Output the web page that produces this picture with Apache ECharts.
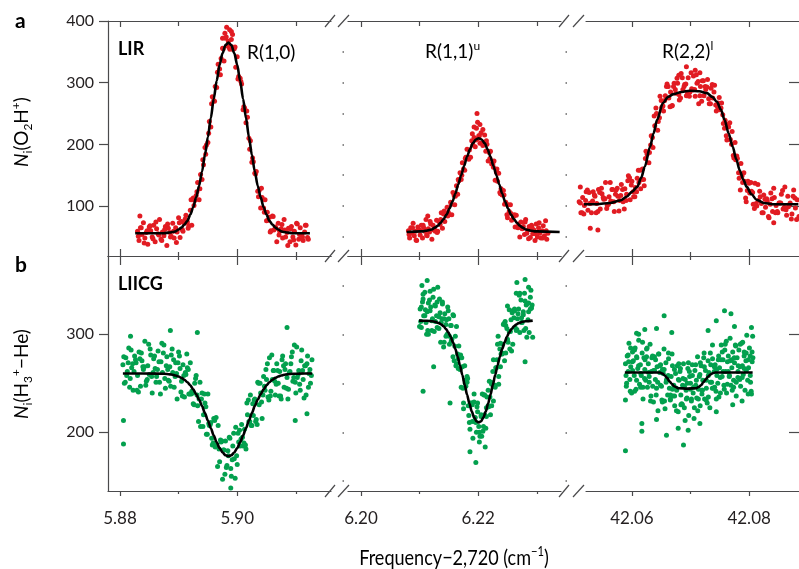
<!DOCTYPE html>
<html><head><meta charset="utf-8">
<script src="https://cdn.jsdelivr.net/npm/echarts@6/dist/echarts.min.js"></script>
<style>html,body{margin:0;padding:0;background:#fff}#c{width:799px;height:569px}</style>
</head><body><div id="c"></div>
<script>
// ---------------- DATA ----------------
// Panel a, R(1,0): LIR spectrum of O2H+ (scatter) and fit
const a1Pts = [[5.8830,59],[5.88325,44],[5.8835,65],[5.88375,54],[5.8840,73],[5.88425,48],[5.8845,57],[5.88475,38],[5.8850,66],[5.88525,60],
[5.8855,50],[5.88575,69],[5.8860,42],[5.88625,63],[5.8865,55],[5.88675,78],[5.8870,46],[5.88725,58],[5.8875,52],[5.88775,67],
[5.8880,36],[5.88825,64],[5.8885,57],[5.88875,51],[5.8890,72],[5.88925,48],[5.8895,65],[5.88975,58],[5.8900,81],[5.89025,49],
[5.8905,75],[5.89075,59],[5.8910,72],[5.89125,85],[5.8915,74],[5.89175,68],[5.8920,93],[5.89225,69],[5.8925,113],[5.89275,109],
[5.8930,117],[5.89325,138],[5.8935,110],[5.89375,151],[5.8940,143],[5.89425,167],[5.8945,195],[5.89475,199],[5.8950,203],[5.89525,237],
[5.8955,228],[5.89575,277],[5.8960,271],[5.89625,294],[5.8965,292],[5.89675,330],[5.8970,322],[5.89725,339],[5.8975,356],[5.89775,335],
[5.8980,372],[5.89825,360],[5.8985,367],[5.89875,354],[5.8990,383],[5.89925,354],[5.8995,355],[5.89975,325],[5.9000,342],[5.90025,310],
[5.9005,307],[5.90075,298],[5.9010,256],[5.90125,259],[5.9015,235],[5.90175,244],[5.9020,210],[5.90225,206],[5.9025,171],[5.90275,172],
[5.9030,153],[5.90325,156],[5.9035,124],[5.90375,125],[5.9040,97],[5.90425,114],[5.9045,97],[5.90475,110],[5.9050,76],[5.90525,77],
[5.9055,82],[5.90575,60],[5.9060,84],[5.90625,61],[5.9065,66],[5.90675,42],[5.9070,72],[5.90725,59],[5.9075,63],[5.90775,48],
[5.9080,78],[5.90825,50],[5.9085,57],[5.90875,64],[5.9090,42],[5.90925,67],[5.9095,50],[5.90975,59],[5.9100,37],[5.91025,71],
[5.9105,46],[5.91075,65],[5.9110,54],[5.91125,44],[5.9115,58],[5.91175,69],[5.9120,49]];
const a1PtsB = [[5.88313,51],[5.88363,65],[5.88413,40],[5.88463,60],[5.88513,68],[5.88563,47],[5.88613,74],[5.88663,53],[5.88713,44],[5.88763,62],
[5.88813,71],[5.88863,50],[5.88913,59],[5.88963,41],[5.89013,73],[5.89063,62],[5.89113,79],[5.89163,64],[5.89213,110],[5.89263,101],
[5.89313,123],[5.89363,128],[5.89413,175],[5.89463,184],[5.89513,218],[5.89563,266],[5.89613,270],[5.89663,317],[5.89713,313],[5.89763,355],
[5.89813,374],[5.89863,357],[5.89913,358],[5.89963,358],[5.90013,306],[5.90063,302],[5.90113,261],[5.90163,254],[5.90213,192],[5.90263,178],
[5.90313,152],[5.90363,115],[5.90413,129],[5.90463,90],[5.90513,90],[5.90563,58],[5.90613,83],[5.90663,64],[5.90713,53],[5.90763,70],
[5.90813,61],[5.90863,36],[5.90913,63],[5.90963,45],[5.91013,72],[5.91063,54],[5.91113,50],[5.91163,69],[5.91213,46]];
const a1Out = [[5.8982,390],[5.8987,386],[5.8979,380],[5.8992,378],[5.8975,372],[5.8990,370],[5.8834,84]];
const a1Fit = [[5.8826,56],[5.8875,56],[5.8885,57],[5.8890,58],[5.8895,59],[5.8900,62],[5.8905,65],[5.8910,70],[5.8915,76],[5.8920,86],
[5.8925,98],[5.8930,114],[5.8935,133],[5.8940,156],[5.8945,183],[5.8950,212],[5.8955,243],[5.8960,274],[5.8965,303],[5.8970,329],
[5.8975,348],[5.8980,361],[5.8985,365],[5.8990,361],[5.8995,348],[5.9000,329],[5.9005,303],[5.9010,274],[5.9015,243],[5.9020,212],
[5.9025,183],[5.9030,156],[5.9035,133],[5.9040,114],[5.9045,98],[5.9050,86],[5.9055,76],[5.9060,70],[5.9065,65],[5.9070,62],
[5.9075,59],[5.9080,58],[5.9085,57],[5.9095,56],[5.9124,56]];

// Panel a, R(1,1)u
const a2Pts = [[6.2081,60],[6.2083,48],[6.2085,65],[6.2087,56],[6.2089,72],[6.2091,52],[6.2093,59],[6.2095,44],[6.2097,66],[6.2099,61],
[6.2101,53],[6.2103,69],[6.2105,48],[6.2107,65],[6.2109,59],[6.2111,78],[6.2113,52],[6.2115,63],[6.2117,58],[6.2119,71],
[6.2121,46],[6.2123,69],[6.2125,64],[6.2127,59],[6.2129,77],[6.2131,59],[6.2133,75],[6.2135,70],[6.2137,89],[6.2139,64],
[6.2141,87],[6.2143,75],[6.2145,87],[6.2147,98],[6.2149,90],[6.2151,86],[6.2153,106],[6.2155,86],[6.2157,122],[6.2159,117],
[6.2161,116],[6.2163,133],[6.2165,119],[6.2167,141],[6.2169,154],[6.2171,143],[6.2173,170],[6.2175,160],[6.2177,158],[6.2179,179],
[6.2181,192],[6.2183,179],[6.2185,191],[6.2187,179],[6.2189,206],[6.2191,199],[6.2193,211],[6.2195,196],[6.2197,226],[6.2199,209],
[6.2201,214],[6.2203,202],[6.2205,219],[6.2207,202],[6.2209,203],[6.2211,215],[6.2213,189],[6.2215,200],[6.2217,173],[6.2219,187],
[6.2221,189],[6.2223,168],[6.2225,168],[6.2227,173],[6.2229,142],[6.2231,155],[6.2233,140],[6.2235,153],[6.2237,122],[6.2239,128],
[6.2241,118],[6.2243,125],[6.2245,103],[6.2247,106],[6.2249,86],[6.2251,102],[6.2253,91],[6.2255,102],[6.2257,77],[6.2259,79],
[6.2261,84],[6.2263,66],[6.2265,85],[6.2267,66],[6.2269,71],[6.2271,50],[6.2273,74],[6.2275,63],[6.2277,67],[6.2279,54],
[6.2281,78],[6.2283,56],[6.2285,61],[6.2287,67],[6.2289,49],[6.2291,69],[6.2293,55],[6.2295,61],[6.2297,44],[6.2299,71],
[6.2301,50],[6.2303,65],[6.2305,56],[6.2307,48],[6.2309,60],[6.2311,68],[6.2313,52],[6.2315,76],[6.2317,46],[6.2319,56]];
const a2PtsB = [[6.2082,54],[6.2088,65],[6.2094,45],[6.2100,61],[6.2106,69],[6.2112,53],[6.2118,75],[6.2124,61],[6.2130,57],[6.2136,78],
[6.2142,92],[6.2148,84],[6.2154,103],[6.2160,102],[6.2166,143],[6.2172,150],[6.2178,177],[6.2184,176],[6.2190,217],[6.2196,207],
[6.2202,214],[6.2208,198],[6.2214,206],[6.2220,177],[6.2226,163],[6.2232,160],[6.2238,120],[6.2244,118],[6.2250,81],[6.2256,88],
[6.2262,86],[6.2268,65],[6.2274,65],[6.2280,74],[6.2286,47],[6.2292,65],[6.2298,55],[6.2304,73],[6.2310,48],[6.2316,60]];
const a2Out = [[6.2198,250],[6.2199,236],[6.2203,232],[6.2193,228],[6.2208,224],[6.2114,84]];
const a2Fit = [[6.2078,58],[6.2101,59],[6.2106,59],[6.2111,60],[6.2116,61],[6.2121,62],[6.2126,65],[6.2131,68],[6.2136,73],[6.2141,79],
[6.2146,86],[6.2151,96],[6.2156,107],[6.2161,120],[6.2166,135],[6.2171,150],[6.2176,165],[6.2181,180],[6.2186,192],[6.2191,202],
[6.2196,208],[6.2201,210],[6.2206,208],[6.2211,202],[6.2216,192],[6.2221,180],[6.2226,165],[6.2231,150],[6.2236,135],[6.2241,120],
[6.2246,107],[6.2251,96],[6.2256,86],[6.2261,79],[6.2266,73],[6.2271,68],[6.2276,65],[6.2281,62],[6.2286,61],[6.2291,60],
[6.2296,59],[6.2301,59],[6.2339,58]];

// Panel a, R(2,2)l
const a3Pts = [[42.0510,107],[42.0513,89],[42.0516,114],[42.0519,101],[42.0522,123],[42.0525,93],[42.0528,104],[42.0531,89],[42.0534,123],[42.0537,116],
[42.0540,104],[42.0543,127],[42.0546,95],[42.0549,120],[42.0552,111],[42.0555,138],[42.0558,101],[42.0561,115],[42.0564,108],[42.0567,127],
[42.0570,91],[42.0573,126],[42.0576,116],[42.0579,109],[42.0582,135],[42.0585,107],[42.0588,128],[42.0591,119],[42.0594,149],[42.0597,110],
[42.0600,140],[42.0603,115],[42.0606,130],[42.0609,145],[42.0612,138],[42.0615,128],[42.0618,160],[42.0621,133],[42.0624,189],[42.0627,186],
[42.0630,187],[42.0633,214],[42.0636,195],[42.0639,230],[42.0642,250],[42.0645,237],[42.0648,278],[42.0651,260],[42.0654,254],[42.0657,279],
[42.0660,298],[42.0663,275],[42.0666,285],[42.0669,263],[42.0672,299],[42.0675,283],[42.0678,299],[42.0681,272],[42.0684,315],[42.0687,289],
[42.0690,297],[42.0693,279],[42.0696,308],[42.0699,285],[42.0702,290],[42.0705,311],[42.0708,278],[42.0711,299],[42.0714,266],[42.0717,294],
[42.0720,303],[42.0723,279],[42.0726,289],[42.0729,305],[42.0732,266],[42.0735,291],[42.0738,275],[42.0741,296],[42.0744,254],[42.0747,267],
[42.0750,256],[42.0753,267],[42.0756,234],[42.0759,239],[42.0762,207],[42.0765,228],[42.0768,208],[42.0771,221],[42.0774,178],[42.0777,175],
[42.0780,177],[42.0783,145],[42.0786,169],[42.0789,138],[42.0792,140],[42.0795,107],[42.0798,140],[42.0801,121],[42.0804,124],[42.0807,103],
[42.0810,137],[42.0813,100],[42.0816,109],[42.0819,115],[42.0822,89],[42.0825,118],[42.0828,98],[42.0831,108],[42.0834,81],[42.0837,121],
[42.0840,91],[42.0843,114],[42.0846,101],[42.0849,89],[42.0852,105],[42.0855,119],[42.0858,95],[42.0861,131],[42.0864,85],[42.0867,99],
[42.0870,105],[42.0873,87],[42.0876,126],[42.0879,97],[42.0882,110],[42.0885,83]];
const a3PtsB = [[42.0512,105],[42.0518,87],[42.0524,126],[42.0530,105],[42.0536,118],[42.0542,91],[42.0548,129],[42.0554,112],[42.0560,103],[42.0566,127],
[42.0572,119],[42.0578,92],[42.0584,127],[42.0590,109],[42.0596,146],[42.0602,123],[42.0608,123],[42.0614,158],[42.0620,143],[42.0626,184],
[42.0632,199],[42.0638,246],[42.0644,223],[42.0650,271],[42.0656,271],[42.0662,294],[42.0668,262],[42.0674,289],[42.0680,281],[42.0686,308],
[42.0692,298],[42.0698,278],[42.0704,288],[42.0710,313],[42.0716,279],[42.0722,303],[42.0728,293],[42.0734,266],[42.0740,285],[42.0746,261],
[42.0752,259],[42.0758,226],[42.0764,232],[42.0770,200],[42.0776,203],[42.0782,154],[42.0788,149],[42.0794,113],[42.0800,137],[42.0806,122],
[42.0812,104],[42.0818,124],[42.0824,89],[42.0830,112],[42.0836,103],[42.0842,129],[42.0848,91],[42.0854,105],[42.0860,98],[42.0866,116],
[42.0872,79],[42.0878,113]];
const a3PtsC = [[42.0515,89],[42.0521,109],[42.0527,122],[42.0533,108],[42.0539,89],[42.0545,122],[42.0551,114],[42.0557,96],[42.0563,138],[42.0569,107],
[42.0575,129],[42.0581,117],[42.0587,95],[42.0593,141],[42.0599,134],[42.0605,115],[42.0611,158],[42.0617,143],[42.0623,177],[42.0629,170],
[42.0635,211],[42.0641,259],[42.0647,243],[42.0653,262],[42.0659,294],[42.0665,261],[42.0671,294],[42.0677,307],[42.0683,275],[42.0689,294],
[42.0695,283],[42.0701,316],[42.0707,289],[42.0713,302],[42.0719,270],[42.0725,294],[42.0731,274],[42.0737,297],[42.0743,264],[42.0749,276],
[42.0755,248],[42.0761,214],[42.0767,235],[42.0773,182],[42.0779,181],[42.0785,126],[42.0791,154],[42.0797,125],[42.0803,138],[42.0809,96],
[42.0815,135],[42.0821,104],[42.0827,111],[42.0833,83],[42.0839,112],[42.0845,89],[42.0851,105],[42.0857,125],[42.0863,94],[42.0869,102],
[42.0875,116],[42.0881,78]];
const a3Out = [[42.0693,326],[42.0708,320],[42.0716,316],[42.0680,312],[42.0529,64],[42.0542,61],[42.0842,73],[42.0512,131]];
const a3Fit = [[42.0508,103],[42.0540,103],[42.0563,105],[42.0580,109],[42.0591,115],[42.0600,123],[42.0609,131],[42.0616,146],[42.0622,164],
[42.0631,196],[42.0637,218],[42.0643,240],[42.0653,267],[42.0662,277],[42.0670,281],[42.0685,285],[42.0699,287],[42.0715,286],[42.0728,283],
[42.0737,277],[42.0745,269],[42.0752,256],[42.0758,240],[42.0765,218],[42.0772,196],[42.0778,176],[42.0784,158],[42.0790,143],[42.0796,131],
[42.0804,119],[42.0813,110],[42.0825,105],[42.0840,103],[42.0884,103]];

// Panel b, LIICG of H3+-He
const b1Pts = [[5.8805,269],[5.88075,250],[5.8810,276],[5.88125,262],[5.8815,286],[5.88175,255],[5.8820,266],[5.88225,243],[5.8825,278],[5.88275,271],
[5.8830,258],[5.88325,282],[5.8835,247],[5.88375,273],[5.8840,264],[5.88425,293],[5.8845,252],[5.88475,268],[5.8850,259],[5.88525,279],
[5.8855,240],[5.88575,275],[5.8860,265],[5.88625,257],[5.8865,283],[5.88675,251],[5.8870,272],[5.88725,261],[5.8875,289],[5.88775,245],
[5.8880,277],[5.88825,253],[5.8885,267],[5.88875,279],[5.8890,261],[5.88925,246],[5.8895,271],[5.88975,234],[5.8900,282],[5.89025,265],
[5.8905,252],[5.89075,269],[5.8910,236],[5.89125,259],[5.8915,266],[5.89175,239],[5.8920,271],[5.89225,242],[5.8925,229],[5.89275,250],
[5.8930,258],[5.89325,227],[5.8935,234],[5.89375,206],[5.8940,240],[5.89425,218],[5.8945,230],[5.89475,198],[5.8950,239],[5.89525,207],
[5.8955,210],[5.89575,187],[5.8960,214],[5.89625,185],[5.8965,187],[5.89675,207],[5.8970,170],[5.89725,190],[5.8975,152],[5.89775,182],
[5.8980,191],[5.89825,166],[5.8985,176],[5.89875,194],[5.8990,155],[5.89925,186],[5.8995,173],[5.89975,205],[5.9000,167],[5.90025,190],
[5.9005,186],[5.90075,208],[5.9010,186],[5.90125,203],[5.9015,183],[5.90175,218],[5.9020,211],[5.90225,238],[5.9025,207],[5.90275,217],
[5.9030,234],[5.90325,213],[5.9035,251],[5.90375,228],[5.9040,240],[5.90425,214],[5.9045,257],[5.90475,243],[5.9050,254],[5.90525,236],
[5.9055,276],[5.90575,242],[5.9060,254],[5.90625,263],[5.9065,238],[5.90675,270],[5.9070,250],[5.90725,262],[5.9075,234],[5.90775,278],
[5.9080,246],[5.90825,270],[5.9085,256],[5.90875,244],[5.9090,262],[5.90925,277],[5.9095,252],[5.90975,289],[5.9100,240],[5.91025,256],
[5.9105,263],[5.91075,243],[5.9110,284],[5.91125,254],[5.9115,268],[5.91175,238],[5.9120,278],[5.91225,260],[5.9125,250],[5.91275,274]];
const b1PtsB = [[5.88065,277],[5.88115,258],[5.88165,246],[5.88215,270],[5.88265,274],[5.88315,241],[5.88365,281],[5.88415,267],[5.88465,254],[5.88515,285],
[5.88565,261],[5.88615,251],[5.88665,272],[5.88715,291],[5.88765,255],[5.88815,264],[5.88865,247],[5.88915,274],[5.88965,260],[5.89015,278],
[5.89065,237],[5.89115,261],[5.89165,264],[5.89215,239],[5.89265,228],[5.89315,238],[5.89365,251],[5.89415,206],[5.89465,226],[5.89515,209],
[5.89565,194],[5.89615,212],[5.89665,165],[5.89715,192],[5.89765,182],[5.89815,164],[5.89865,195],[5.89915,172],[5.89965,153],[5.90015,199],
[5.90065,193],[5.90115,189],[5.90165,230],[5.90215,211],[5.90265,229],[5.90315,211],[5.90365,250],[5.90415,231],[5.90465,247],[5.90515,270],
[5.90565,237],[5.90615,263],[5.90665,249],[5.90715,237],[5.90765,274],[5.90815,264],[5.90865,234],[5.90915,270],[5.90965,256],[5.91015,287],
[5.91065,249],[5.91115,263],[5.91165,268],[5.91215,246],[5.91265,258]];
const b1PtsC = [[5.8809,251],[5.8814,271],[5.8819,284],[5.8824,262],[5.8829,243],[5.8834,275],[5.8839,267],[5.8844,248],[5.8849,290],[5.8854,257],
[5.8859,278],[5.8864,264],[5.8869,239],[5.8874,281],[5.8879,268],[5.8884,252],[5.8889,285],[5.8894,257],[5.8899,271],[5.8904,241],
[5.8909,258],[5.8914,280],[5.8919,239],[5.8924,240],[5.8929,255],[5.8934,211],[5.8939,234],[5.8944,239],[5.8949,198],[5.8954,208],
[5.8959,189],[5.8964,215],[5.8969,183],[5.8974,191],[5.8979,157],[5.8984,181],[5.8989,163],[5.8994,199],[5.8999,176],[5.9004,202],
[5.9009,195],[5.9014,187],[5.9019,233],[5.9024,207],[5.9029,233],[5.9034,208],[5.9039,250],[5.9044,238],[5.9049,264],[5.9054,233],
[5.9059,279],[5.9064,252],[5.9069,263],[5.9074,237],[5.9079,268],[5.9084,245],[5.9089,261],[5.9094,282],[5.9099,251],[5.9104,259],
[5.9109,273],[5.9114,235],[5.9119,270],[5.9124,264]];
const b1Out = [[5.8806,212],[5.8806,188],[5.8886,304],[5.8818,298],[5.8932,302],[5.9085,307],[5.8989,143],[5.9119,219],[5.9099,212]];
const b1Fit = [[5.8805,260],[5.8865,259.9],[5.8875,259.7],[5.8885,259.1],[5.8890,258.7],[5.8895,257.9],[5.8900,256.9],[5.8905,255.5],[5.8910,253.6],
[5.8915,251.1],[5.8920,247.9],[5.8925,243.8],[5.8930,238.9],[5.8935,233.2],[5.8940,226.7],[5.8945,219.5],[5.8950,211.9],[5.8955,204.1],
[5.8960,196.6],[5.8965,189.7],[5.8970,183.8],[5.8975,179.3],[5.8980,176.5],[5.8985,175.5],[5.8990,176.5],[5.8995,179.3],[5.9000,183.8],
[5.9005,189.7],[5.9010,196.6],[5.9015,204.1],[5.9020,211.9],[5.9025,219.5],[5.9030,226.7],[5.9035,233.2],[5.9040,238.9],[5.9045,243.8],
[5.9050,247.9],[5.9055,251.1],[5.9060,253.6],[5.9065,255.5],[5.9070,256.9],[5.9075,257.9],[5.9080,258.7],[5.9085,259.1],[5.9095,259.7],
[5.9105,259.9],[5.9128,260]];

const b2Pts = [[6.2101,326],[6.2103,307],[6.2105,333],[6.2107,319],[6.2109,343],[6.2111,312],[6.2113,323],[6.2115,300],[6.2117,335],[6.2119,328],
[6.2121,314],[6.2123,338],[6.2125,303],[6.2127,329],[6.2129,319],[6.2131,348],[6.2133,306],[6.2135,322],[6.2137,312],[6.2139,331],
[6.2141,287],[6.2143,321],[6.2145,310],[6.2147,300],[6.2149,324],[6.2151,290],[6.2153,309],[6.2155,295],[6.2157,320],[6.2159,273],
[6.2161,298],[6.2163,270],[6.2165,280],[6.2167,288],[6.2169,265],[6.2171,246],[6.2173,267],[6.2175,224],[6.2177,268],[6.2179,247],
[6.2181,251],[6.2183,227],[6.2185,210],[6.2187,230],[6.2189,230],[6.2191,194],[6.2193,231],[6.2195,215],[6.2197,200],[6.2199,230],
[6.2201,206],[6.2203,196],[6.2205,218],[6.2207,239],[6.2209,206],[6.2211,218],[6.2213,204],[6.2215,236],[6.2217,227],[6.2219,252],
[6.2221,218],[6.2223,249],[6.2225,262],[6.2227,247],[6.2229,246],[6.2231,266],[6.2233,290],[6.2235,257],[6.2237,285],[6.2239,280],
[6.2241,281],[6.2243,310],[6.2245,273],[6.2247,309],[6.2249,306],[6.2251,292],[6.2253,325],[6.2255,303],[6.2257,283],[6.2259,324],
[6.2261,317],[6.2263,307],[6.2265,342],[6.2267,316],[6.2269,326],[6.2271,302],[6.2273,335],[6.2275,312],[6.2277,323],[6.2279,342],
[6.2281,306],[6.2283,331],[6.2285,315],[6.2287,302],[6.2289,338],[6.2291,327],[6.2293,297]];
const b2PtsB = [[6.2102,313],[6.2106,336],[6.2110,325],[6.2114,304],[6.2118,344],[6.2122,316],[6.2126,330],[6.2130,307],[6.2134,336],[6.2138,316],
[6.2142,292],[6.2146,315],[6.2150,316],[6.2154,293],[6.2158,319],[6.2162,268],[6.2166,275],[6.2170,279],[6.2174,245],[6.2178,250],
[6.2182,255],[6.2186,203],[6.2190,228],[6.2194,211],[6.2198,226],[6.2202,200],[6.2206,196],[6.2210,238],[6.2214,225],[6.2218,226],
[6.2222,251],[6.2226,232],[6.2230,266],[6.2234,298],[6.2238,267],[6.2242,290],[6.2246,313],[6.2250,295],[6.2254,285],[6.2258,322],
[6.2262,324],[6.2266,305],[6.2270,340],[6.2274,317],[6.2278,304],[6.2282,330],[6.2286,323],[6.2290,345]];
const b2PtsC = [[6.2100,308],[6.2103,328],[6.2106,341],[6.2109,319],[6.2112,300],[6.2115,332],[6.2118,324],[6.2121,304],[6.2124,346],[6.2127,313],
[6.2130,333],[6.2133,318],[6.2136,292],[6.2139,333],[6.2142,316],[6.2145,298],[6.2148,328],[6.2151,298],[6.2154,309],[6.2157,277],
[6.2160,288],[6.2163,308],[6.2166,265],[6.2169,264],[6.2172,276],[6.2175,230],[6.2178,253],[6.2181,257],[6.2184,217],[6.2187,228],
[6.2190,211],[6.2193,239],[6.2196,210],[6.2199,221],[6.2202,190],[6.2205,216],[6.2208,201],[6.2211,238],[6.2214,216],[6.2217,243],
[6.2220,236],[6.2223,227],[6.2226,274],[6.2229,248],[6.2232,274],[6.2235,249],[6.2238,291],[6.2241,280],[6.2244,311],[6.2247,281],
[6.2250,329],[6.2253,303],[6.2256,315],[6.2259,290],[6.2262,326],[6.2265,304],[6.2268,321],[6.2271,342],[6.2274,312],[6.2277,320],
[6.2280,334],[6.2283,297],[6.2286,332],[6.2289,326],[6.2292,330]];
const b2Out = [[6.2113,355],[6.2104,350],[6.2280,356],[6.2266,353],[6.2286,348],[6.2106,242],[6.2152,230],[6.2196,169],[6.2186,180],[6.2212,185],[6.2124,267],[6.2280,272]];
const b2Fit = [[6.2099,314],[6.2113,313.8],[6.2121,313.3],[6.2127,312.7],[6.2133,311.4],[6.2137,310.1],[6.2141,308.2],[6.2145,305.5],[6.2149,302.0],
[6.2153,297.5],[6.2157,291.9],[6.2161,285.1],[6.2165,277.1],[6.2169,268.2],[6.2173,258.5],[6.2177,248.4],[6.2181,238.5],[6.2185,229.3],
[6.2189,221.3],[6.2193,215.2],[6.2197,211.3],[6.2201,210],[6.2205,211.3],[6.2209,215.2],[6.2213,221.3],[6.2217,229.3],[6.2221,238.5],
[6.2225,248.4],[6.2229,258.5],[6.2233,268.2],[6.2237,277.1],[6.2241,285.1],[6.2245,291.9],[6.2249,297.5],[6.2253,302.0],[6.2257,305.5],
[6.2261,308.2],[6.2265,310.1],[6.2269,311.4],[6.2275,312.7],[6.2281,313.3],[6.2293,314]];

const b3Pts = [[42.0589,270],[42.05905,247],[42.0592,278],[42.05935,262],[42.0595,291],[42.05965,254],[42.0598,267],[42.05995,240],[42.0601,282],[42.06025,273],
[42.0604,258],[42.06055,286],[42.0607,244],[42.06085,276],[42.0610,265],[42.06115,300],[42.0613,249],[42.06145,269],[42.0616,258],[42.06175,281],
[42.0619,234],[42.06205,276],[42.0622,264],[42.06235,253],[42.0625,285],[42.06265,246],[42.0628,270],[42.06295,257],[42.0631,290],[42.06325,237],
[42.0634,276],[42.06355,247],[42.0637,263],[42.06385,277],[42.0640,254],[42.06415,238],[42.0643,267],[42.06445,222],[42.0646,280],[42.06475,261],
[42.0649,269],[42.06505,247],[42.0652,231],[42.06535,260],[42.0655,264],[42.06565,224],[42.0658,271],[42.06595,254],[42.0661,238],[42.06625,275],
[42.0664,245],[42.06655,233],[42.0667,257],[42.06685,280],[42.0670,237],[42.06715,248],[42.0673,227],[42.06745,260],[42.0676,245],[42.06775,268],
[42.0679,221],[42.06805,253],[42.0682,262],[42.06835,238],[42.0685,229],[42.06865,248],[42.0688,270],[42.06895,225],[42.0691,254],[42.06925,243],
[42.0694,235],[42.06955,265],[42.0697,217],[42.06985,257],[42.0700,250],[42.07015,232],[42.0703,269],[42.07045,240],[42.0706,214],[42.07075,263],
[42.0709,248],[42.07105,235],[42.0712,277],[42.07135,244],[42.0715,257],[42.07165,227],[42.0718,268],[42.07195,239],[42.0721,253],[42.07225,276],
[42.0724,234],[42.07255,263],[42.0727,245],[42.07285,230],[42.0730,273],[42.07315,261],[42.0733,225],[42.07345,269],[42.0736,251],[42.07375,289],
[42.0739,245],[42.07405,262],[42.0742,269],[42.07435,242],[42.0745,258],[42.07465,250],[42.0748,278],[42.07495,266],[42.0751,240],[42.07525,289],
[42.0754,257],[42.07555,274],[42.0757,248],[42.07585,284],[42.0760,262],[42.07615,240],[42.0763,272],[42.07645,278],[42.0766,257],[42.07675,296],
[42.0769,248],[42.07705,266],[42.0772,282],[42.07735,253],[42.0775,271],[42.07765,289],[42.0778,237],[42.07795,276],[42.0781,262],[42.07825,284],
[42.0784,254],[42.07855,247],[42.0787,291],[42.07885,268],[42.0790,259],[42.07915,278],[42.0793,243],[42.07945,273],[42.0796,299],[42.07975,253],
[42.0799,266],[42.08005,286],[42.0802,258],[42.08035,242],[42.0805,282],[42.08065,276]];
const b3PtsB = [[42.0590,258],[42.05936,279],[42.05972,242],[42.06008,272],[42.06044,284],[42.0608,253],[42.06116,294],[42.06152,260],[42.06188,246],[42.06224,274],
[42.0626,286],[42.06296,251],[42.06332,262],[42.06368,231],[42.06404,274],[42.0644,251],[42.06476,268],[42.06512,233],[42.06548,285],[42.06584,251],
[42.0662,258],[42.06656,234],[42.06692,268],[42.06728,237],[42.06764,243],[42.068,270],[42.06836,228],[42.06872,255],[42.06908,212],[42.06944,250],
[42.0698,262],[42.07016,234],[42.07052,246],[42.07088,269],[42.07124,222],[42.0716,259],[42.07196,243],[42.07232,281],[42.07268,233],[42.07304,258],
[42.0734,251],[42.07376,275],[42.07412,246],[42.07448,264],[42.07484,236],[42.0752,274],[42.07556,262],[42.07592,290],[42.07628,249],[42.07664,258],
[42.077,274],[42.07736,246],[42.07772,288],[42.07808,256],[42.07844,267],[42.0788,232],[42.07916,282],[42.07952,263],[42.07988,274],[42.08024,251],
[42.0806,298]];
const b3PtsC = [[42.0591,250],[42.05944,272],[42.05978,286],[42.06012,263],[42.06046,242],[42.0608,277],[42.06114,268],[42.06148,246],[42.06182,292],[42.06216,255],
[42.0625,277],[42.06284,261],[42.06318,232],[42.06352,278],[42.06386,263],[42.0642,245],[42.06454,280],[42.06488,248],[42.06522,264],[42.06556,232],
[42.0659,253],[42.06624,281],[42.06658,238],[42.06692,244],[42.06726,264],[42.0676,222],[42.06794,254],[42.06828,265],[42.06862,228],[42.06896,247],
[42.0693,234],[42.06964,271],[42.06998,244],[42.07032,258],[42.07066,225],[42.071,253],[42.07134,234],[42.07168,271],[42.07202,243],[42.07236,267],
[42.0727,253],[42.07304,236],[42.07338,281],[42.07372,245],[42.07406,267],[42.0744,234],[42.07474,274],[42.07508,256],[42.07542,282],[42.07576,244],
[42.0761,293],[42.07644,262],[42.07678,273],[42.07712,243],[42.07746,276],[42.0778,251],[42.07814,268],[42.07848,290],[42.07882,256],[42.07916,265],
[42.0795,281],[42.07984,239],[42.08018,278],[42.08052,272]];
const b3Out = [[42.0589,181],[42.0589,233],[42.0617,209],[42.0617,201],[42.0659,197],[42.0688,187],[42.0655,319],[42.0758,324],[42.0769,321],
[42.0744,314],[42.0804,307],[42.0804,239],[42.0789,292],[42.0608,301],[42.0622,305],[42.0642,306],[42.0668,302],[42.0730,304],[42.0775,308],
[42.0642,213],[42.0679,204],[42.0696,202],[42.0716,209],[42.0744,221],[42.0772,228]];
const b3Fit = [[42.0588,261],[42.0648,261],[42.0652,260],[42.0656,258],[42.0660,255.5],[42.0664,252],[42.0668,249.5],[42.0672,247],[42.0676,245.8],
[42.0679,245],[42.0695,244.6],[42.0710,245],[42.0714,246.3],[42.0718,248],[42.0722,251],[42.0726,254],[42.0730,256.8],[42.0734,259],
[42.0738,260.3],[42.0742,261],[42.0806,261]];

// Axis ranges and tick values
const colXRange = [[5.87796, 5.91600], [6.19779, 6.23413], [42.05217, 42.08851]];
const rowYRange = [[19, 400], [140, 380]];
const xMajorTicks = [[5.88, 5.90], [6.20, 6.22], [42.06, 42.08]];
const xMinorTicks = [[5.89, 5.91], [6.21, 6.23], [42.07]];
const yLabelTicks = [[100, 200, 300, 400], [200, 300]];
const yRightTicks = [[100, 200, 300], [200, 300]];
const yDotTicks = [[50, 100, 150, 200, 250, 300, 350], [150, 200, 250, 300, 350]];

// ---------------- LAYOUT / STYLE ----------------
const colPx = [[108, 331], [348, 561], [586, 799]];
const rowPx = [[21, 256], [256, 491]];
const RED = '#e11b22', GREEN = '#03a04e', AX = '#4a4a4c';
const FONT = "Lato, 'Open Sans', sans-serif";

const panels = [
  {r: 0, c: 0, pts: [a1Pts, a1PtsB, a1Out], fit: a1Fit, color: RED},
  {r: 0, c: 1, pts: [a2Pts, a2PtsB, a2Out], fit: a2Fit, color: RED},
  {r: 0, c: 2, pts: [a3Pts, a3PtsB, a3PtsC, a3Out], fit: a3Fit, color: RED},
  {r: 1, c: 0, pts: [b1Pts, b1PtsB, b1PtsC, b1Out], fit: b1Fit, color: GREEN},
  {r: 1, c: 1, pts: [b2Pts, b2PtsB, b2PtsC, b2Out], fit: b2Fit, color: GREEN},
  {r: 1, c: 2, pts: [b3Pts, b3PtsB, b3PtsC, b3Out], fit: b3Fit, color: GREEN}
];

const grids = [], xAxes = [], yAxes = [], series = [];
const hidden = {axisLine: {show: false}, axisTick: {show: false}, axisLabel: {show: false}, splitLine: {show: false}};

panels.forEach((p, g) => {
  const r = p.r, c = p.c;
  grids.push({left: colPx[c][0], width: colPx[c][1] - colPx[c][0], top: rowPx[r][0], height: rowPx[r][1] - rowPx[r][0], outerBoundsMode: 'none', containLabel: false});
  const xr = {gridIndex: g, type: 'value', min: colXRange[c][0], max: colXRange[c][1], scale: true};
  const xi = xAxes.length;
  xAxes.push(Object.assign({}, xr, hidden, {
    position: 'bottom',
    axisLine: {show: true, lineStyle: {color: AX, width: 1.2}},
    axisTick: {show: true, customValues: xMajorTicks[c], inside: r === 0, length: r === 0 ? 7 : 5, lineStyle: {color: AX, width: 1.2}},
    axisLabel: r === 1 ? {show: true, customValues: xMajorTicks[c], formatter: v => v.toFixed(2), fontFamily: FONT, fontSize: 17, color: '#231f20', margin: 19} : {show: false}
  }));
  xAxes.push(Object.assign({}, xr, hidden, {
    position: 'bottom',
    axisTick: {show: true, customValues: xMinorTicks[c], inside: r === 0, length: r === 0 ? 4 : 3, lineStyle: {color: AX, width: 1.2}}
  }));
  xAxes.push(Object.assign({}, xr, hidden, {
    position: 'top',
    axisLine: {show: true, lineStyle: {color: AX, width: 1.2}},
    axisTick: {show: true, customValues: xMajorTicks[c], inside: true, length: r === 0 ? 6 : 9, lineStyle: {color: AX, width: 1.2}}
  }));
  xAxes.push(Object.assign({}, xr, hidden, {
    position: 'top',
    axisTick: {show: true, customValues: xMinorTicks[c], inside: true, length: r === 0 ? 5 : 4, lineStyle: {color: AX, width: 1.2}}
  }));

  const yr = {gridIndex: g, type: 'value', min: rowYRange[r][0], max: rowYRange[r][1], scale: true};
  const yi = yAxes.length;
  if (c === 0) {
    yAxes.push(Object.assign({}, yr, hidden, {
      position: 'left',
      axisLine: {show: true, lineStyle: {color: AX, width: 1.2}},
      axisTick: {show: true, customValues: yLabelTicks[r], inside: false, length: 9, lineStyle: {color: AX, width: 1.2}},
      axisLabel: {show: true, customValues: yLabelTicks[r], fontFamily: FONT, fontSize: 16, color: '#231f20', margin: 14}
    }));
  } else {
    yAxes.push(Object.assign({}, yr, hidden, {
      position: 'left', offset: c === 1 ? 4 : 19,
      axisTick: {show: true, customValues: yDotTicks[r], inside: false, length: 1.5, lineStyle: {color: '#666', width: 1.5}}
    }));
  }
  if (c === 2) {
    yAxes.push(Object.assign({}, yr, hidden, {
      position: 'right',
      axisTick: {show: true, customValues: yRightTicks[r], inside: true, length: 10, lineStyle: {color: AX, width: 1.2}}
    }));
  }
  series.push({
    type: 'scatter', xAxisIndex: xi, yAxisIndex: yi,
    data: [].concat(...p.pts),
    symbol: 'circle', symbolSize: 5,
    itemStyle: {color: p.color, opacity: 1, borderWidth: 0},
    clip: false, silent: true, z: 2, animation: false
  });
  series.push({
    type: 'line', xAxisIndex: xi, yAxisIndex: yi, data: p.fit,
    showSymbol: false, symbol: 'none', smooth: 0.3, smoothMonotone: 'x',
    lineStyle: {color: '#000', width: 2.6}, clip: false, silent: true, z: 3, animation: false
  });
});

// break marks
const breaks = [];
[21, 256, 491].forEach(y => {
  [[325, 338], [559, 573]].forEach(pair => {
    breaks.push({type: 'line', shape: {x1: pair[0], y1: y + 6, x2: pair[0] + 10, y2: y - 6}, style: {stroke: AX, lineWidth: 1.2}, silent: true});
    breaks.push({type: 'line', shape: {x1: pair[1], y1: y + 6, x2: pair[1] + 11, y2: y - 6}, style: {stroke: AX, lineWidth: 1.2}, silent: true});
  });
});

const richBase = {
  n: {fontFamily: FONT, fontSize: 19, lineHeight: 24, verticalAlign: 'middle', color: '#231f20'},
  it: {fontFamily: FONT, fontSize: 19, fontStyle: 'italic', lineHeight: 24, verticalAlign: 'middle', color: '#231f20'},
  sub: {fontFamily: FONT, fontSize: 12, lineHeight: 12, verticalAlign: 'bottom', color: '#231f20'},
  sup: {fontFamily: FONT, fontSize: 12, lineHeight: 12, verticalAlign: 'top', color: '#231f20'}
};
const richTitle = {
  n: {fontFamily: FONT, fontSize: 21, lineHeight: 26, verticalAlign: 'middle', color: '#231f20'},
  sup: {fontFamily: FONT, fontSize: 13, lineHeight: 13, verticalAlign: 'top', color: '#231f20'}
};

const texts = [
  {type: 'text', x: 15, y: 21, style: {text: 'a', font: 'bold 21px ' + FONT, fill: '#000', verticalAlign: 'middle'}},
  {type: 'text', x: 15, y: 265, style: {text: 'b', font: 'bold 21px ' + FONT, fill: '#000', verticalAlign: 'middle'}},
  {type: 'text', x: 118, y: 49, style: {text: 'LIR', font: 'bold 18px ' + FONT, fill: '#000', verticalAlign: 'middle'}},
  {type: 'text', x: 118, y: 284, style: {text: 'LIICG', font: 'bold 18px ' + FONT, fill: '#000', verticalAlign: 'middle'}},
  {type: 'text', x: 247, y: 53, style: {text: '{n|R(1,0)}', rich: richBase, verticalAlign: 'middle'}},
  {type: 'text', x: 425, y: 52, style: {text: '{n|R(1,1)}{sup|u}', rich: richBase, verticalAlign: 'middle'}},
  {type: 'text', x: 662, y: 52, style: {text: '{n|R(2,2)}{sup|l}', rich: richBase, verticalAlign: 'middle'}},
  {type: 'text', x: 22, y: 132, rotation: Math.PI / 2, style: {text: '{it|N}{sub|i}{n|(O}{sub|2}{n|H}{sup|+}{n|)}', rich: richBase, align: 'center', verticalAlign: 'middle'}},
  {type: 'text', x: 22, y: 374, rotation: Math.PI / 2, style: {text: '{it|N}{sub|i}{n|(H}{sub|3}{sup|+}{n|\u2212He)}', rich: richBase, align: 'center', verticalAlign: 'middle'}},
  {type: 'text', x: 454, y: 558, scaleX: 0.86, style: {text: '{n|Frequency\u22122,720 (cm}{sup|\u22121}{n|)}', rich: richTitle, align: 'center', verticalAlign: 'middle'}}
];

const chart = echarts.init(document.getElementById('c'), null, {renderer: 'canvas'});
chart.setOption({
  animation: false,
  backgroundColor: '#fff',
  grid: grids, xAxis: xAxes, yAxis: yAxes, series: series,
  graphic: breaks.concat(texts)
});
</script>
</body></html>
